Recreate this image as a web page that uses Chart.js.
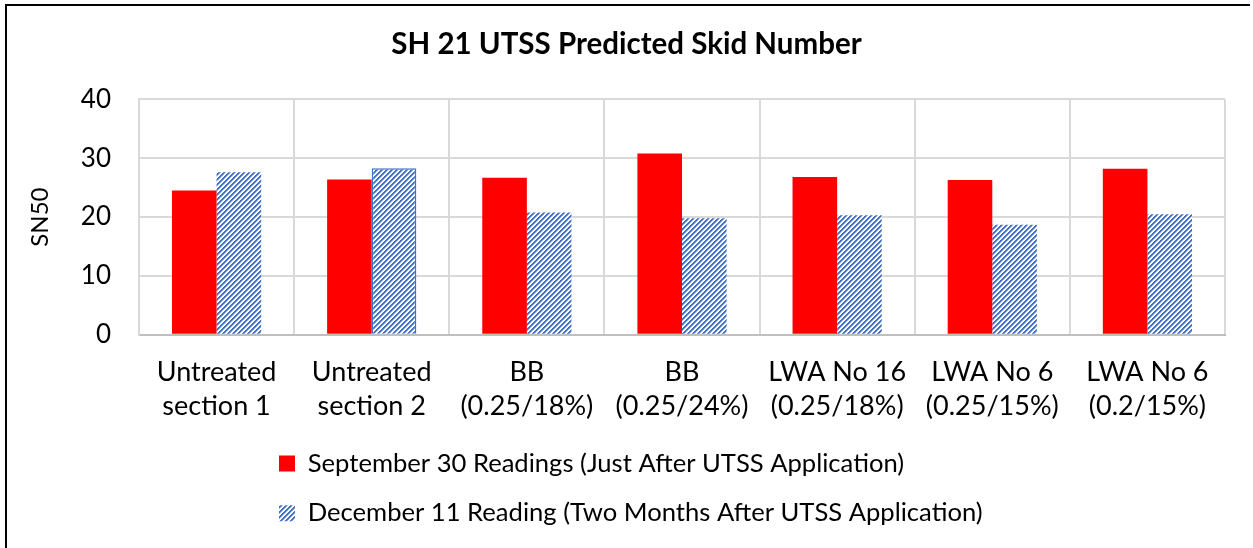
<!DOCTYPE html>
<html>
<head>
<meta charset="utf-8">
<script src="https://cdn.jsdelivr.net/npm/chart.js@4.4.0/dist/chart.umd.min.js"></script>
<style>
  body { margin: 0; background: #fff; }
  #wrap { position: relative; width: 1253px; height: 548px; overflow: hidden; }
  #frame { position: absolute; left: 5px; top: 4px; width: 1243px; height: 600px;
           border-top: 2px solid #000; border-left: 2px solid #000; pointer-events: none; }
</style>
</head>
<body>
<div id="wrap">
  <canvas id="myChart" width="1253" height="548"></canvas>
  <div id="frame"></div>
</div>
<script>
// test sections along the road
var sections = [
  ['Untreated', 'section 1'],
  ['Untreated', 'section 2'],
  ['BB', '(0.25/18%)'],
  ['BB', '(0.25/24%)'],
  ['LWA No 16', '(0.25/18%)'],
  ['LWA No 6', '(0.25/15%)'],
  ['LWA No 6', '(0.2/15%)']
];
var sept30 = [24.5, 26.4, 26.7, 30.8, 26.8, 26.3, 28.2];
var dec11 = [27.6, 28.3, 20.8, 19.8, 20.3, 18.7, 20.5];
var yTicks = [0, 10, 20, 30, 40];

var FONT = 'Lato';

// blue diagonal hatch like the spreadsheet fill
function hatch(color, soft) {
  var c = document.createElement('canvas');
  c.width = 10; c.height = 10;
  var g = c.getContext('2d');
  g.fillStyle = '#fff';
  g.fillRect(0, 0, 10, 10);
  for (var y = 0; y < 10; y++) {
    for (var x = 0; x < 10; x++) {
      var k = (x + y) % 5;
      if (k < 2) { g.fillStyle = color; g.fillRect(x, y, 1, 1); }
      else if (k === 2) { g.fillStyle = soft; g.fillRect(x, y, 1, 1); }
    }
  }
  return g.createPattern(c, 'repeat');
}

// legend left aligned under the labels, title centred on the whole canvas
var boxTweaks = {
  id: 'boxTweaks',
  afterLayout: function (chart) {
    chart.legend.left = 255;
    chart.titleBlock.left = 0;
    chart.titleBlock.right = chart.width;
  }
};

var ctx = document.getElementById('myChart').getContext('2d');
var myChart = new Chart(ctx, {
  type: 'bar',
  data: {
    labels: sections,
    datasets: [{
      label: 'September 30 Readings (Just After UTSS Application)',
      data: sept30,
      backgroundColor: '#FF0000',
      borderWidth: 0
    }, {
      label: 'December 11 Reading (Two Months After UTSS Application)',
      data: dec11,
      backgroundColor: hatch('#4472C4', '#94ade0'),
      borderColor: '#4472C4',
      borderWidth: function (c) { return c.dataIndex === 1 ? 1.5 : 0; }
    }]
  },
  plugins: [boxTweaks],
  options: {
    responsive: false,
    animation: false,
    devicePixelRatio: 1,
    categoryPercentage: 0.575,
    barPercentage: 1,
    layout: { padding: { left: 0, right: 28, top: 0, bottom: 12 } },
    scales: {
      x: {
        afterFit: function (scale) { scale.height = 92; },
        grid: { color: '#d9d9d9', lineWidth: 2, drawTicks: false },
        border: { color: '#bfbfbf', width: 2 },
        ticks: {
          color: '#000',
          padding: 20,
          maxRotation: 0,
          font: { family: FONT, size: 27, lineHeight: 1.26 }
        }
      },
      y: {
        min: yTicks[0],
        max: yTicks[yTicks.length - 1],
        afterFit: function (scale) { scale.width = 139; },
        grid: { color: '#d9d9d9', lineWidth: 2, drawTicks: false },
        border: { color: '#d9d9d9', width: 2 },
        ticks: {
          stepSize: yTicks[1] - yTicks[0],
          color: '#000',
          padding: 28,
          font: { family: FONT, size: 26 }
        },
        title: {
          display: true,
          text: 'SN50',
          color: '#000',
          padding: { top: 26, bottom: 0 },
          font: { family: FONT, size: 24 }
        }
      }
    },
    plugins: {
      title: {
        display: true,
        text: 'SH 21 UTSS Predicted Skid Number',
        color: '#000',
        padding: { top: 27, bottom: 37 },
        font: { family: FONT, size: 29.5, weight: 'bold' }
      },
      legend: {
        position: 'bottom',
        align: 'start',
        labels: {
          color: '#000',
          boxWidth: 16,
          boxHeight: 16,
          padding: 24,
          font: { family: FONT, size: 25.6 }
        }
      },
      tooltip: { enabled: false }
    }
  }
});
</script>
</body>
</html>
